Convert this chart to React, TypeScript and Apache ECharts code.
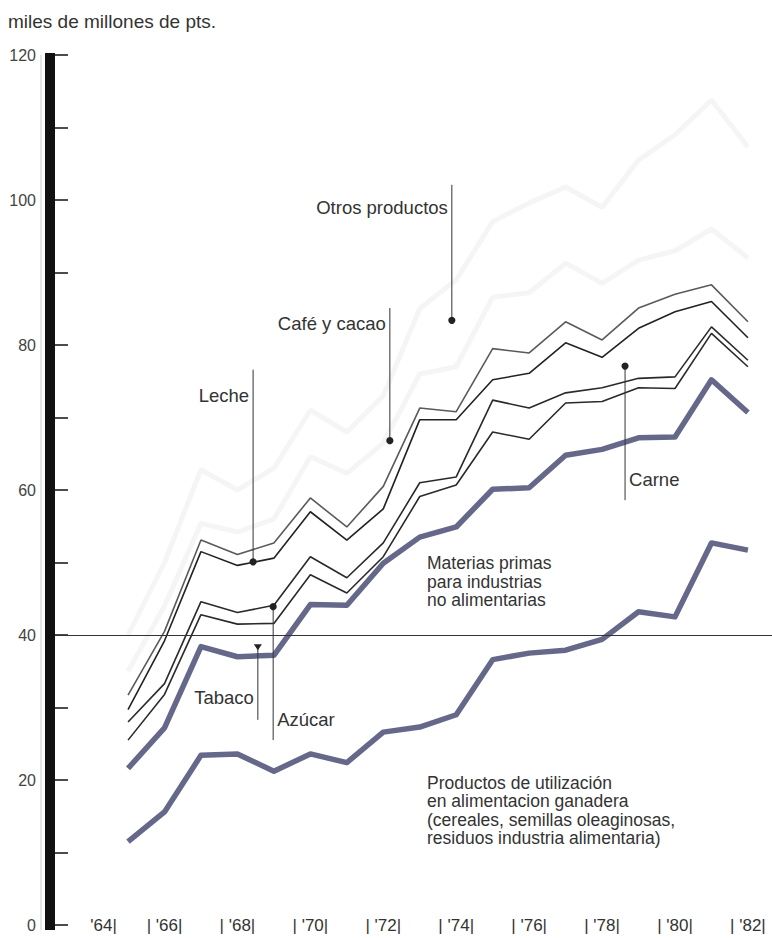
import React, { useEffect, useRef } from "react";
import * as echarts from "echarts";

// ---- data (thousands of millions of pesetas, cumulative stacked totals) ----
const years = [1965, 1966, 1967, 1968, 1969, 1970, 1971, 1972, 1973, 1974, 1975, 1976, 1977, 1978, 1979, 1980, 1981, 1982];
const ganadera = [11.5, 15.6, 23.4, 23.6, 21.2, 23.6, 22.4, 26.6, 27.3, 29.0, 36.6, 37.5, 37.9, 39.4, 43.2, 42.5, 52.7, 51.7];
const materias = [21.6, 27.2, 38.4, 37.0, 37.2, 44.2, 44.1, 49.9, 53.5, 54.9, 60.1, 60.3, 64.8, 65.6, 67.2, 67.3, 75.2, 70.7];
const tabacoTop = [25.5, 31.8, 42.8, 41.5, 41.6, 48.3, 45.8, 50.8, 59.1, 60.7, 68.0, 67.0, 72.0, 72.2, 74.1, 74.0, 81.6, 77.0];
const azucarTop = [28.0, 33.3, 44.6, 43.1, 44.1, 50.8, 47.9, 52.7, 61.0, 61.8, 72.4, 71.3, 73.4, 74.1, 75.4, 75.6, 82.5, 77.9];
const carneTop = [29.7, 39.2, 51.5, 49.6, 50.6, 57.0, 53.1, 57.4, 69.7, 69.7, 75.2, 76.1, 80.3, 78.3, 82.3, 84.6, 86.0, 81.0];
const lecheTop = [31.7, 40.5, 53.1, 51.1, 52.7, 58.9, 54.9, 60.5, 71.3, 70.8, 79.5, 78.9, 83.2, 80.7, 85.1, 87.0, 88.3, 83.2];
const cafeTop = [35.0, 44.0, 55.4, 54.2, 56.0, 64.6, 62.3, 66.5, 76.0, 77.0, 86.6, 87.2, 91.3, 88.5, 91.7, 93.0, 96.0, 92.0];
const otrosTop = [40.0, 50.0, 62.8, 60.0, 63.0, 71.0, 68.0, 73.0, 85.0, 89.0, 97.0, 99.6, 101.8, 99.0, 105.5, 109.0, 113.8, 107.3];

const xLabelYears = [1964, 1966, 1968, 1970, 1972, 1974, 1976, 1978, 1980, 1982];
const yMin = 0;
const yMax = 120;
const yStep = 10;
const referenceLevel = 40;

const title = "miles de millones de pts.";

// pointer annotations: [year, value] of marker, end of pointer, label side
const pointers = [
  { text: "Otros productos", at: [1973.88, 83.4], end: 102.1, textY: 98.9, side: "left", marker: "dot" },
  { text: "Café y cacao", at: [1972.18, 66.8], end: 85.1, textY: 83.0, side: "left", marker: "dot" },
  { text: "Leche", at: [1968.43, 50.1], end: 76.6, textY: 73.1, side: "left", marker: "dot" },
  { text: "Carne", at: [1978.63, 77.1], end: 58.6, textY: 61.4, side: "right", marker: "dot" },
  { text: "Tabaco", at: [1968.56, 38.3], end: 28.3, textY: 31.4, side: "left", marker: "tri" },
  { text: "Azúcar", at: [1968.98, 43.9], end: 25.5, textY: 28.4, side: "right", marker: "dot" },
];
const blockLabels = [
  { lines: ["Materias primas", "para industrias", "no alimentarias"], at: [1973.2, 49.9], lineHeight: 18.4 },
  {
    lines: [
      "Productos de utilización",
      "en alimentacion ganadera",
      "(cereales, semillas oleaginosas,",
      "residuos industria alimentaria)",
    ],
    at: [1973.2, 19.6],
    lineHeight: 18.4,
  },
];

const FONT = "Liberation Sans, Arial, Helvetica, sans-serif";
const TEXT_COLOR = "#333";

function pts(vals: number[]) {
  return years.map((y, i) => [y, vals[i]]);
}

export default function App() {
  const ref = useRef<HTMLDivElement>(null);

  useEffect(() => {
    if (!ref.current) return;
    const chart = echarts.init(ref.current, null, { renderer: "svg" });

    const thin = (name: string, vals: number[], color: string, z: number) => ({
      name,
      type: "line",
      data: pts(vals),
      symbol: "none",
      silent: true,
      z,
      lineStyle: { color, width: 1.6 },
    });
    const thick = (name: string, vals: number[], z: number, extra: any = {}) => ({
      name,
      type: "line",
      data: pts(vals),
      symbol: "none",
      silent: true,
      z,
      lineStyle: { color: "#66688a", width: 5.5, join: "round" },
      ...extra,
    });
    const faint = (name: string, vals: number[]) => ({
      name,
      type: "line",
      data: pts(vals),
      symbol: "none",
      silent: true,
      z: 1,
      lineStyle: { color: "rgba(175,175,190,0.13)", width: 5 },
    });

    chart.setOption({
      animation: false,
      grid: { left: 50, right: 0, top: 55, bottom: 13, containLabel: false },
      xAxis: {
        type: "value",
        min: 1962.86,
        max: 1982.66,
        axisLine: { show: false },
        axisTick: { show: false },
        splitLine: { show: false },
        axisLabel: {
          customValues: xLabelYears,
          margin: 0,
          verticalAlign: "middle",
          fontFamily: FONT,
          fontSize: 17,
          color: TEXT_COLOR,
          formatter: (v: number) => {
            const yy = String(v).slice(2);
            return v === xLabelYears[0] ? "{f|'" + yy + "|}" : "| '" + yy + "|";
          },
          rich: { f: { padding: [0, 0, 0, 24], fontFamily: FONT, fontSize: 17, color: TEXT_COLOR } },
        },
      },
      yAxis: {
        type: "value",
        min: yMin,
        max: yMax,
        interval: yStep,
        axisLine: { show: true, lineStyle: { color: "#111", width: 10, cap: "butt" } },
        axisTick: { show: true, inside: true, length: 18, lineStyle: { color: "#111", width: 1.5 } },
        splitLine: { show: false },
        axisLabel: {
          margin: 14,
          fontFamily: FONT,
          fontSize: 16,
          color: "#444",
          formatter: (v: number) => (v % 20 === 0 ? String(v) : ""),
        },
      },
      series: [
        faint("Otros productos", otrosTop),
        faint("Café y cacao", cafeTop),
        thin("Leche", lecheTop, "#5a5a5a", 3),
        thin("Carne", carneTop, "#222", 3),
        thin("Azúcar", azucarTop, "#2a2a2a", 3),
        thin("Tabaco", tabacoTop, "#2a2a2a", 3),
        thick("Materias primas", materias, 4),
        thick("Productos ganadera", ganadera, 4, {
          markLine: {
            silent: true,
            symbol: "none",
            label: { show: false },
            lineStyle: { color: "#333", width: 1, type: "solid" },
            data: [{ yAxis: referenceLevel }],
          },
        }),
      ],
    });

    const px = (x: number, y: number) => chart.convertToPixel({ xAxisIndex: 0, yAxisIndex: 0 }, [x, y]) as number[];
    const graphics: any[] = [];

    graphics.push({
      type: "text",
      left: 8,
      top: 12,
      style: { text: title, font: `19px ${FONT}`, fill: TEXT_COLOR },
    });
    // thin rule left of axis bar
    const top = px(1962.86, yMax);
    const bot = px(1962.86, yMin);
    graphics.push({
      type: "line",
      shape: { x1: 41, y1: top[1], x2: 41, y2: bot[1] + 5 },
      style: { stroke: "#cfcfcf", lineWidth: 1 },
      silent: true,
    });
    // square-ended bar, slightly longer than the axis, like the printed original
    graphics.push({
      type: "rect",
      shape: { x: 45, y: top[1] - 2, width: 10, height: bot[1] - top[1] + 7 },
      style: { fill: "#111" },
      z: 20,
      silent: true,
    });

    pointers.forEach((p) => {
      const a = px(p.at[0], p.at[1]);
      const e = px(p.at[0], p.end);
      const t = px(p.at[0], p.textY);
      graphics.push({
        type: "line",
        shape: { x1: a[0], y1: a[1], x2: e[0], y2: e[1] },
        style: { stroke: "#333", lineWidth: 1 },
        z: 10,
      });
      if (p.marker === "dot") {
        graphics.push({
          type: "circle",
          shape: { cx: a[0], cy: a[1], r: 3.6 },
          style: { fill: "#222" },
          z: 11,
        });
      } else {
        graphics.push({
          type: "polygon",
          shape: { points: [[a[0] - 4, a[1] - 3], [a[0] + 4, a[1] - 3], [a[0], a[1] + 3]] },
          style: { fill: "#222" },
          z: 11,
        });
      }
      const left = p.side === "left";
      graphics.push({
        type: "text",
        x: left ? a[0] - 4 : a[0] + 4,
        y: t[1],
        style: {
          text: p.text,
          font: `18.5px ${FONT}`,
          fill: TEXT_COLOR,
          align: left ? "right" : "left",
          textAlign: left ? "right" : "left",
          verticalAlign: "middle",
          textVerticalAlign: "middle",
        },
        z: 12,
      });
    });

    blockLabels.forEach((b) => {
      const a = px(b.at[0], b.at[1]);
      b.lines.forEach((ln, i) => {
        graphics.push({
          type: "text",
          x: a[0],
          y: a[1] + i * b.lineHeight,
          style: {
            text: ln,
            font: `17.5px ${FONT}`,
            fill: TEXT_COLOR,
            align: "left",
            textAlign: "left",
            verticalAlign: "middle",
            textVerticalAlign: "middle",
          },
          z: 12,
        });
      });
    });

    chart.setOption({ graphic: graphics });

    return () => chart.dispose();
  }, []);

  return (
    <div
      ref={ref}
      style={{ position: "fixed", left: 0, top: 0, width: 772, height: 938, background: "#fff" }}
    />
  );
}
